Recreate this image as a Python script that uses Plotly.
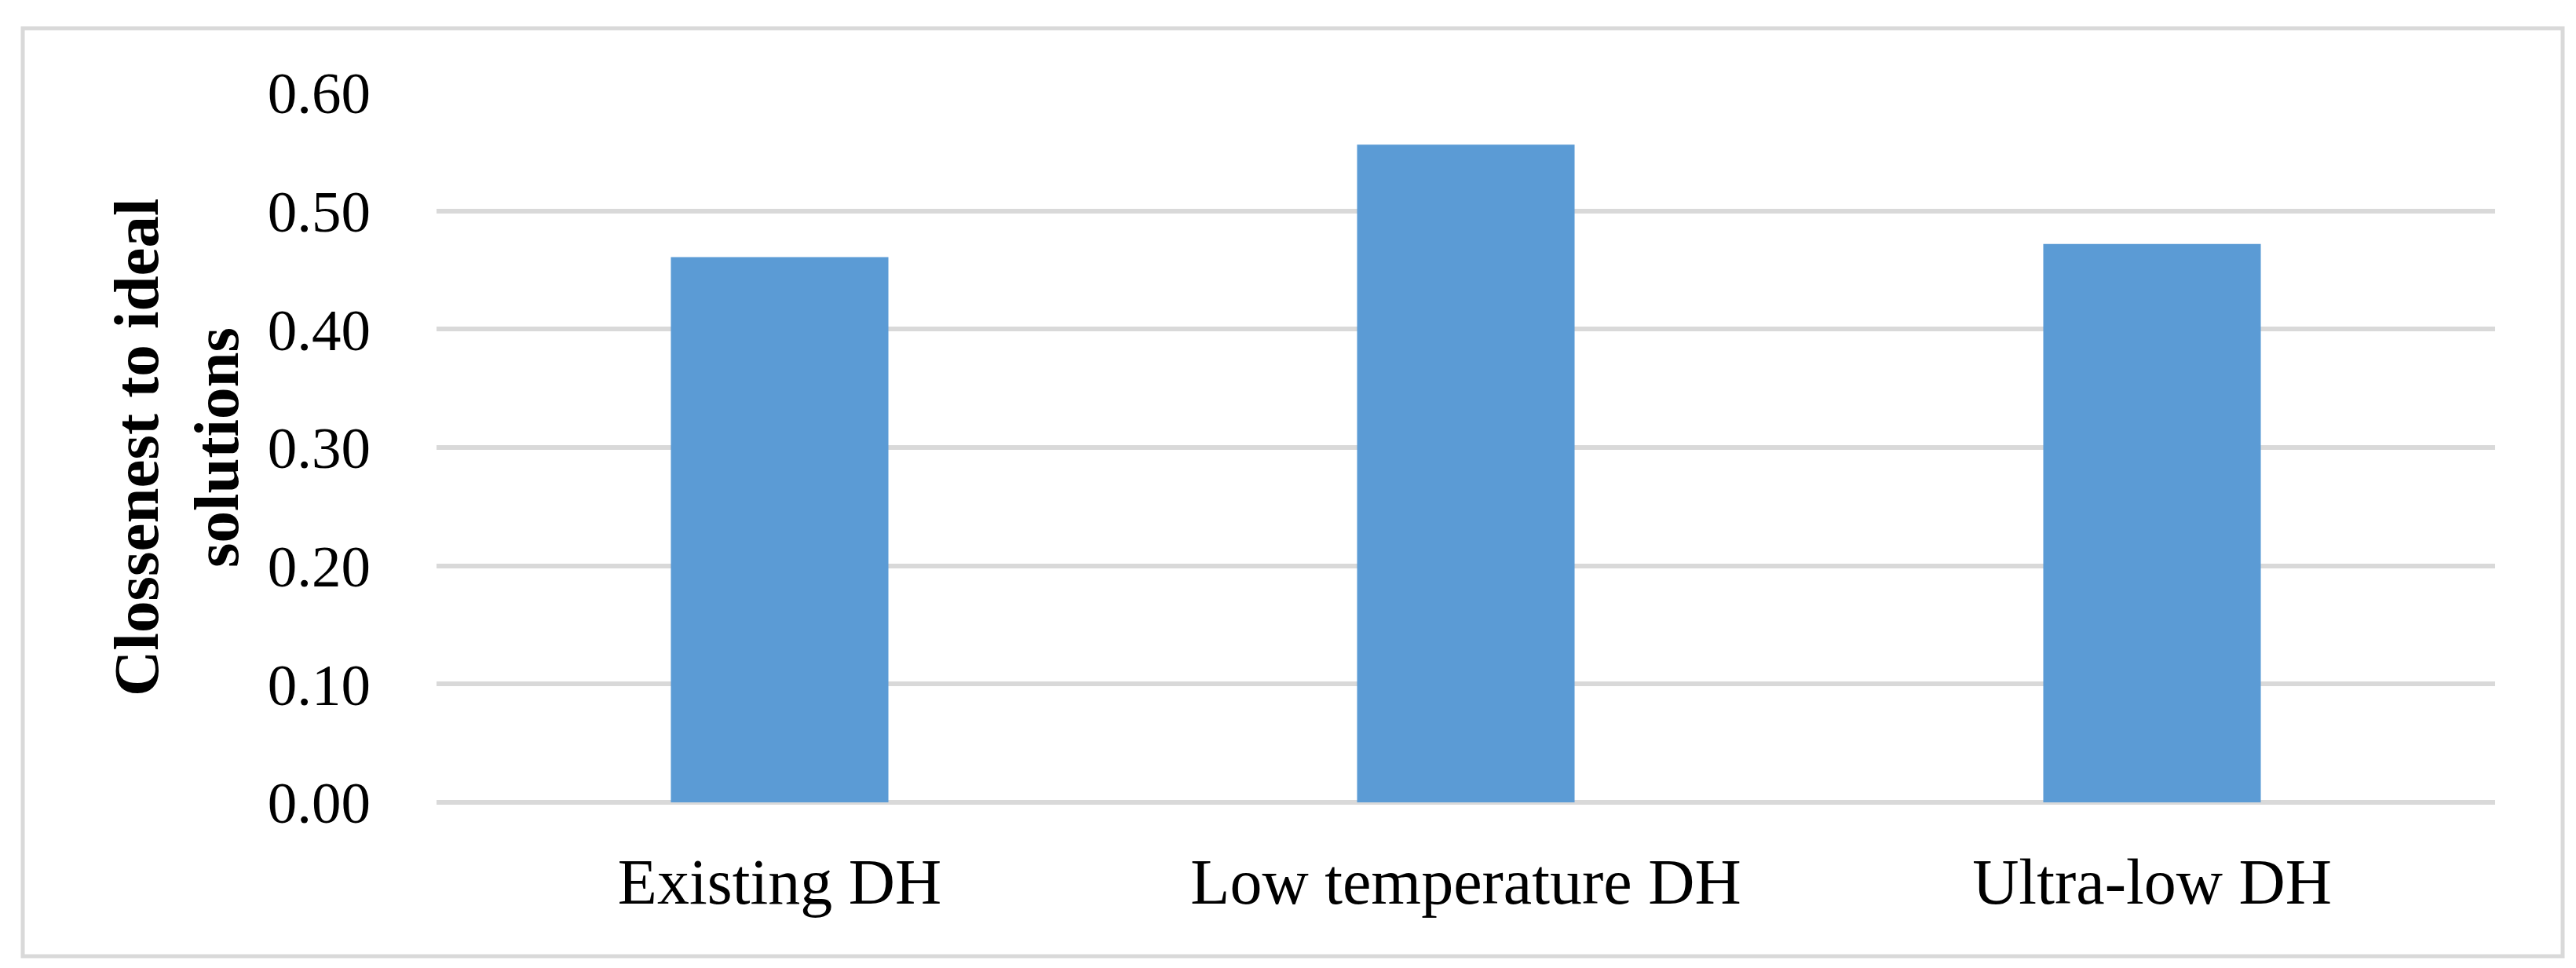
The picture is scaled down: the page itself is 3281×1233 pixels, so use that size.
import plotly.graph_objects as go

categories = ["Existing DH", "Low temperature DH", "Ultra-low DH"]
values = [0.461, 0.556, 0.472]
y_ticks = [0.0, 0.1, 0.2, 0.3, 0.4, 0.5, 0.6]
y_tick_labels = ["0.00", "0.10", "0.20", "0.30", "0.40", "0.50", "0.60"]
y_title_lines = ["Clossenest to ideal", "solutions"]

W, H = 3281, 1233
L, R, T, B = 548, 111, 110, 219
pw, ph = W - L - R, H - T - B

def px_x(px):
    return (px - L) / pw

def px_y(py):
    return (H - B - py) / ph

FONT = "Liberation Serif, Times New Roman, serif"
GRID = "#d9d9d9"

fig = go.Figure(go.Bar(
    x=categories, y=values,
    marker=dict(color="#5B9BD5", line=dict(width=0)),
    width=0.317,
))

fig.update_layout(
    width=W, height=H,
    margin=dict(l=L, r=R, t=T, b=B, pad=0),
    paper_bgcolor="white", plot_bgcolor="white",
    showlegend=False,
    font=dict(family=FONT, size=76, color="black"),
)

fig.update_xaxes(
    showgrid=False, showline=False, zeroline=False,
    ticks="", ticklabelstandoff=46,
    tickfont=dict(family=FONT, size=82, color="black"),
)
fig.update_yaxes(
    range=[0, 0.6], tickvals=y_ticks, ticktext=y_tick_labels,
    showgrid=True, gridcolor=GRID, gridwidth=6,
    zeroline=True, zerolinecolor=GRID, zerolinewidth=6,
    showline=False, ticks="", ticklabelstandoff=83,
    tickfont=dict(family=FONT, size=75, color="black"),
)

for line, cx in zip(y_title_lines, [166, 268]):
    fig.add_annotation(
        text="<b>" + line + "</b>",
        xref="paper", yref="paper",
        x=px_x(cx), y=0.5,
        xanchor="center", yanchor="middle",
        textangle=-90, showarrow=False,
        font=dict(family=FONT, size=81, color="black"),
        align="center",
    )

fig.add_shape(
    type="rect", xref="paper", yref="paper",
    x0=px_x(21), x1=px_x(3256), y0=px_y(1210), y1=px_y(28),
    line=dict(color=GRID, width=5), fillcolor="rgba(0,0,0,0)", layer="below",
)

fig.write_html("out.html")
